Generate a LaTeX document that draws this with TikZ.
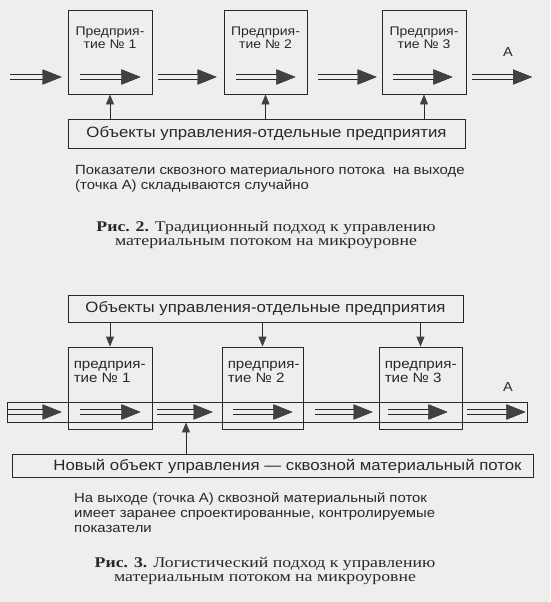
\documentclass[tikz,border=0pt]{standalone}
\usepackage{fontspec}
\setmainfont[FakeStretch=1.12]{Liberation Sans}
\newfontfamily\capfont[FakeStretch=1.2]{Liberation Serif}
\usetikzlibrary{arrows.meta}
\definecolor{bg}{RGB}{238,238,236}
\definecolor{ink}{RGB}{40,40,40}
\definecolor{tipc}{RGB}{65,65,65}
\begin{document}
\begin{tikzpicture}[x=1pt,y=-1pt,
  box/.style={draw=ink, line width=0.9pt, inner sep=0pt},
  fliptip/.style={-{Triangle[length=19pt,width=15pt,color=tipc,fill=tipc,line width=0.6pt]}},
  flow/.style={draw=bg, line width=3.6pt, fliptip,
    preaction={draw=ink, line width=5.6pt, fliptip}},
  ctl/.style={draw=ink, line width=0.9pt, -{Triangle[length=10pt,width=8pt,color=tipc,fill=tipc]}},
  btxt/.style={font=\fontsize{12.5}{13}\selectfont, inner sep=0pt, text=ink},
  bbtxt/.style={font=\fontsize{13.5}{14}\selectfont, inner sep=0pt, text=ink, align=left},
  ctxt/.style={font=\fontsize{15}{17}\selectfont, inner sep=0pt, text=ink},
  ptxt/.style={font=\fontsize{13.3}{15}\selectfont, inner sep=0pt, text=ink, align=left},
  captxt/.style={font=\capfont\fontsize{14.8}{14.5}\selectfont, inner sep=0pt, text=ink, align=center},
]
\fill[bg] (0,0) rectangle (550,602);
\useasboundingbox (0,0) rectangle (550,602);

% ---------------- Fig. 2 ----------------
\node[box, minimum width=84pt, minimum height=84pt] (p1) at (110,52) {};
\node[box, minimum width=83pt, minimum height=84pt] (p2) at (265.5,52) {};
\node[box, minimum width=84pt, minimum height=84pt] (p3) at (424,52) {};
\node[btxt, align=center, anchor=north] (p1t) at ([yshift=-17pt]p1.north) {Предприя-\\тие № 1};
\node[btxt, align=center, anchor=north] (p2t) at ([yshift=-17pt]p2.north) {Предприя-\\тие № 2};
\node[btxt, align=center, anchor=north] (p3t) at ([yshift=-17pt]p3.north) {Предприя-\\тие № 3};

\node[box, minimum width=397pt, minimum height=29pt] (c1) at (266.5,133.5) {};
\node[ctxt] (c1t) at (c1.center) {Объекты управления-отдельные предприятия};

\coordinate (fy) at (0,77);
\coordinate (in1) at (10,77);
\coordinate (outA) at (532,77);
\draw[flow] (in1) -- ([xshift=-6pt]p1.west |- fy);
\draw[flow] ([xshift=12pt]p1.west |- fy) -- ([xshift=-12pt]p1.east |- fy);
\draw[flow] ([xshift=6pt]p1.east |- fy) -- ([xshift=-7pt]p2.west |- fy);
\draw[flow] ([xshift=12pt]p2.west |- fy) -- ([xshift=-12pt]p2.east |- fy);
\draw[flow] ([xshift=11pt]p2.east |- fy) -- ([xshift=-5pt]p3.west |- fy);
\draw[flow] ([xshift=11pt]p3.west |- fy) -- ([xshift=-14pt]p3.east |- fy);
\draw[flow] ([xshift=6pt]p3.east |- fy) -- (outA);
\node[btxt, font=\fontsize{13}{13}\selectfont] (A1) at (508,52) {А};

\draw[ctl] (c1.north -| p1) -- (p1.south);
\draw[ctl] (c1.north -| p2) -- (p2.south);
\draw[ctl] (c1.north -| p3) -- (p3.south);

\node[ptxt, anchor=north west] (t1) at (75,165.5) {Показатели сквозного материального потока \ на выходе\\(точка А) складываются случайно};
\node[captxt, anchor=north] (cap1) at (266,221) {\textbf{Рис. 2.} Традиционный подход к управлению\\материальным потоком на микроуровне};

% ---------------- Fig. 3 ----------------
\node[box, minimum width=395pt, minimum height=27pt] (c2) at (265.5,308.5) {};
\node[ctxt] (c2t) at (c2.center) {Объекты управления-отдельные предприятия};

\node[box, minimum width=520pt, minimum height=20pt] (band) at (267,412) {};

\node[box, minimum width=84pt, minimum height=82pt] (q1) at (110,388) {};
\node[box, minimum width=81pt, minimum height=82pt] (q2) at (262.5,388) {};
\node[box, minimum width=83pt, minimum height=82pt] (q3) at (420.5,388) {};
\node[bbtxt, anchor=north west] (q1t) at ([xshift=6pt,yshift=-14pt]q1.north west) {предприя-\\тие № 1};
\node[bbtxt, anchor=north west] (q2t) at ([xshift=6pt,yshift=-14pt]q2.north west) {предприя-\\тие № 2};
\node[bbtxt, anchor=north west] (q3t) at ([xshift=6pt,yshift=-14pt]q3.north west) {предприя-\\тие № 3};

\coordinate (gy) at (0,412);
\draw[flow] ([xshift=1pt]band.west) -- ([xshift=-6pt]q1.west |- gy);
\draw[flow] ([xshift=12pt]q1.west |- gy) -- ([xshift=-12pt]q1.east |- gy);
\draw[flow] ([xshift=5pt]q1.east |- gy) -- ([xshift=-9pt]q2.west |- gy);
\draw[flow] ([xshift=11pt]q2.west |- gy) -- ([xshift=-11pt]q2.east |- gy);
\draw[flow] ([xshift=12pt]q2.east |- gy) -- ([xshift=-6pt]q3.west |- gy);
\draw[flow] ([xshift=9pt]q3.west |- gy) -- ([xshift=-15pt]q3.east |- gy);
\draw[flow] ([xshift=5pt]q3.east |- gy) -- ([xshift=-2pt]band.east);
\node[btxt, font=\fontsize{13}{13}\selectfont] (A2) at (508,387) {А};

\draw[ctl] (c2.south -| q1) -- (q1.north);
\draw[ctl] (c2.south -| q2) -- (q2.north);
\draw[ctl] (c2.south -| q3) -- (q3.north);

\node[box, minimum width=521pt, minimum height=23pt] (c3) at (272.5,466) {};
\node[ctxt] (c3t) at ([xshift=15pt]c3.center) {Новый объект управления — сквозной материальный поток};
\coordinate (up3) at (186,0);
\draw[ctl] (c3.north -| up3) -- (band.south -| up3);

\node[ptxt, anchor=north west] (t2) at (74,492) {На выходе (точка А) сквозной материальный поток\\имеет заранее спроектированные, контролируемые\\показатели};
\node[captxt, anchor=north] (cap2) at (265,557) {\textbf{Рис. 3.} Логистический подход к управлению\\материальным потоком на микроуровне};
\end{tikzpicture}
\end{document}
